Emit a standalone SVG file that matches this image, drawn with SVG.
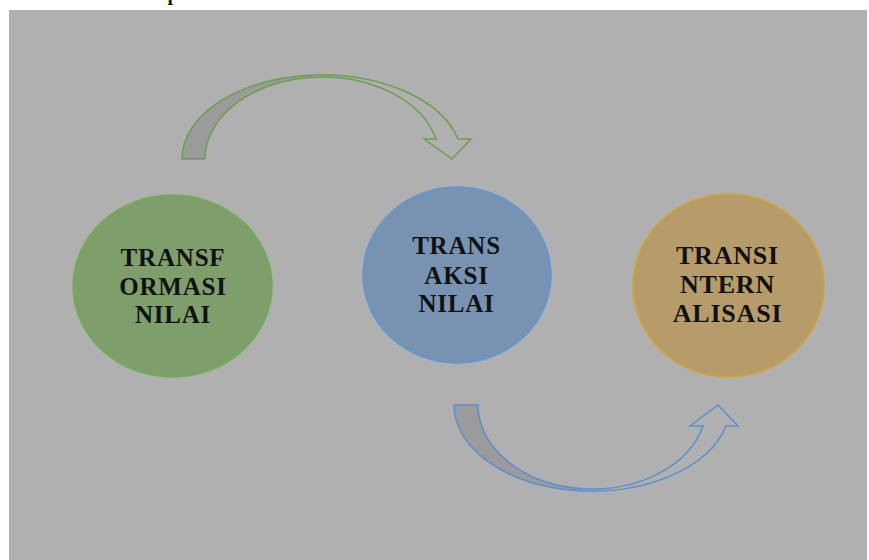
<svg xmlns="http://www.w3.org/2000/svg" width="869" height="560" viewBox="0 0 869 560">
  <style>
    .lbl { font-family: "Liberation Serif", "Times New Roman", serif; font-weight: bold; fill: #111; text-anchor: middle; letter-spacing: 0.8px; }
    .shade { fill: #9b9b9b; stroke-width: 1.5; stroke-linejoin: miter; }
    .front { fill: none; stroke-width: 1.5; stroke-linejoin: miter; }
  </style>
  <rect x="0" y="0" width="869" height="560" fill="#ffffff"/>
  <text x="173" y="0" font-family="Liberation Serif, serif" font-weight="bold" font-size="20" fill="#111" text-anchor="middle">p</text>
  <rect x="9" y="10" width="858" height="550" fill="#b0b0b0"/>

  <g id="connectors">
    <g id="arrow-top" stroke="#6aa04c">
      <path class="shade" d="M182,159 A140,84 0 0 1 310,75.3 L310,77.4 A117,82 0 0 0 205,159 Z"/>
      <path class="front" d="M310,75.3 A140,84 0 0 1 458,139 L471,139 L452,159 L424,139 L436,139 A117,82 0 0 0 310,77.4"/>
    </g>
    <g id="arrow-bottom" stroke="#5b8fcf">
      <path class="shade" d="M454,405 A138,86 0 0 0 580,490.7 L580,488.5 A114,84 0 0 1 478,405 Z"/>
      <path class="front" d="M580,490.7 A138,86 0 0 0 726,426 L738,426 L718,405 L690,426 L703,426 A114,84 0 0 1 580,488.5"/>
    </g>
  </g>

  <g id="node-transformasi">
    <ellipse cx="172.5" cy="286" rx="99.5" ry="91" fill="#7e9f6c" stroke="#6fae4f" stroke-width="1.5"/>
    <text class="lbl" font-size="25" x="173" y="266">TRANSF</text>
    <text class="lbl" font-size="25" x="173" y="294.5">ORMASI</text>
    <text class="lbl" font-size="25" x="173" y="323">NILAI</text>
  </g>

  <g id="node-transaksi">
    <ellipse cx="457" cy="275" rx="94" ry="88" fill="#7893b1" stroke="#5f97d4" stroke-width="1.5"/>
    <text class="lbl" font-size="25" x="456.5" y="254">TRANS</text>
    <text class="lbl" font-size="25" x="456.5" y="283.5">AKSI</text>
    <text class="lbl" font-size="25" x="456.5" y="312">NILAI</text>
  </g>

  <g id="node-transinternalisasi">
    <ellipse cx="728.5" cy="285.5" rx="95.5" ry="91.5" fill="#b79c6b" stroke="#d3a332" stroke-width="1.5"/>
    <text class="lbl" font-size="26" x="727.5" y="264">TRANSI</text>
    <text class="lbl" font-size="26" x="727.5" y="293">NTERN</text>
    <text class="lbl" font-size="26" x="727.5" y="322">ALISASI</text>
  </g>
</svg>
